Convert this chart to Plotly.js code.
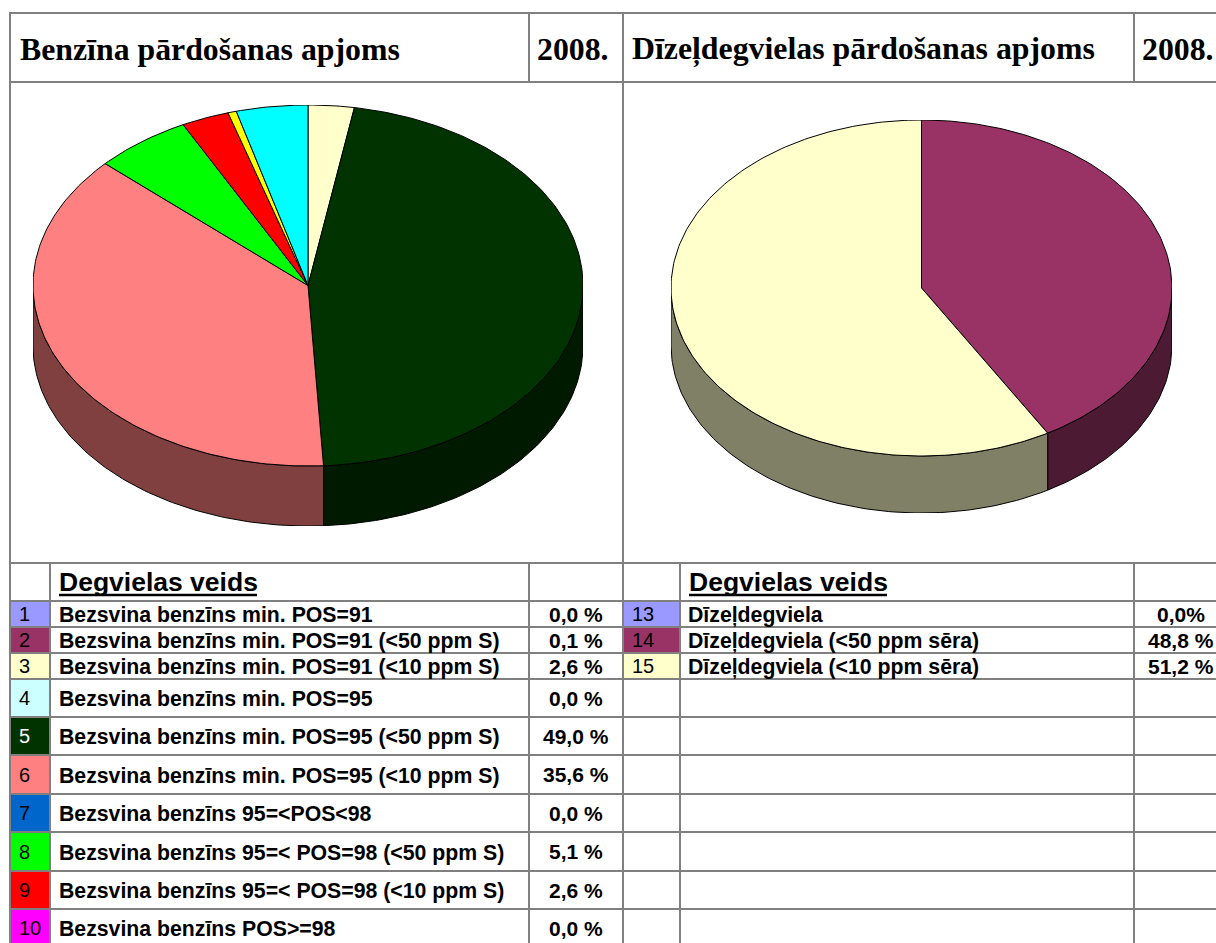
<!DOCTYPE html>
<html><head><meta charset="utf-8">
<script src="https://cdn.plot.ly/plotly-3.0.1.min.js"></script>
<style>html,body{margin:0;padding:0;background:#fff}#c{width:1216px;height:943px}</style>
</head><body><div id="c"></div>
<script>
// ---- data ----
const petrolSliceShares = [2.7, 46.4, 37.7, 5.7, 2.8, 0.5, 4.2];
const petrolSliceColors = ['#FFFFCC','#003300','#FF8080','#00FF00','#FF0000','#FFFF00','#00FFFF'];
const dieselSliceShares = [41.6, 58.4];
const dieselSliceColors = ['#993366','#FFFFCC'];

const petrolTitle = 'Benzīna pārdošanas apjoms';
const dieselTitle = 'Dīzeļdegvielas pārdošanas apjoms';
const yearLabel = '2008.';
const tableHeading = 'Degvielas veids';

const petrolNumbers = ['1','2','3','4','5','6','7','8','9','10'];
const petrolColors = ['#9999FF','#993366','#FFFFCC','#CCFFFF','#003300','#FF8080','#0066CC','#00FF00','#FF0000','#FF00FF'];
const petrolNames = [
 'Bezsvina benzīns min. POS=91',
 'Bezsvina benzīns min. POS=91 (<50 ppm S)',
 'Bezsvina benzīns min. POS=91 (<10 ppm S)',
 'Bezsvina benzīns min. POS=95',
 'Bezsvina benzīns min. POS=95 (<50 ppm S)',
 'Bezsvina benzīns min. POS=95 (<10 ppm S)',
 'Bezsvina benzīns 95=<POS<98',
 'Bezsvina benzīns 95=< POS=98 (<50 ppm S)',
 'Bezsvina benzīns 95=< POS=98 (<10 ppm S)',
 'Bezsvina benzīns POS>=98'];
const petrolPercents = ['0,0 %','0,1 %','2,6 %','0,0 %','49,0 %','35,6 %','0,0 %','5,1 %','2,6 %','0,0 %'];

const dieselNumbers = ['13','14','15'];
const dieselColors = ['#9999FF','#993366','#FFFFCC'];
const dieselNames = ['Dīzeļdegviela','Dīzeļdegviela (<50 ppm sēra)','Dīzeļdegviela (<10 ppm sēra)'];
const dieselPercents = ['0,0%','48,8 %','51,2 %'];

// ---- layout geometry (pixels) ----
const W = 1216, H = 943;
const rowLines = [563,601,627,653,679,717,755,794,832,871,909,947];
const petrolBox = {x0:33, x1:583, y0:105, y1:526, depth:60/180.5};
const dieselBox = {x0:671, x1:1172, y0:120, y1:513, depth:57/168};

function darken(hex){
  const n = parseInt(hex.slice(1),16);
  const f = v => Math.round(v/2).toString(16).padStart(2,'0');
  return '#'+f(n>>16&255)+f(n>>8&255)+f(n&255);
}
function arc(a0,a1,dy){
  const pts=[], n=Math.max(2,Math.ceil(Math.abs(a1-a0)/1));
  for(let i=0;i<=n;i++){
    const a=(a0+(a1-a0)*i/n)*Math.PI/180;
    pts.push([Math.sin(a),Math.cos(a)-dy]);
  }
  return pts;
}
function pieTraces(shares,colors,depth,xa,ya){
  const walls=[], tops=[]; let cum=0;
  shares.forEach((s,i)=>{
    const a0=cum*3.6, a1=(cum+s)*3.6; cum+=s;
    const common={type:'scatter',mode:'lines',fill:'toself',xaxis:xa,yaxis:ya,hoverinfo:'skip',
      showlegend:false,cliponaxis:false,line:{color:'#000',width:1}};
    const t=[[0,0],...arc(a0,a1,0),[0,0]];
    tops.push({...common,x:t.map(p=>p[0]),y:t.map(p=>p[1]),fillcolor:colors[i]});
    const w0=Math.max(a0,90), w1=Math.min(a1,270);
    if(w1>w0){
      const w=[...arc(w0,w1,0),...arc(w1,w0,depth)];
      w.push(w[0]);
      walls.push({...common,x:w.map(p=>p[0]),y:w.map(p=>p[1]),fillcolor:darken(colors[i])});
    }
  });
  return [...walls,...tops];
}

const shapes=[], annotations=[];
const GRID={color:'#808080',width:2};
function hl(y,x0=10,x1=W){shapes.push({type:'line',xref:'x',yref:'y',x0,x1,y0:y,y1:y,line:GRID});}
function vl(x,y0,y1){shapes.push({type:'line',xref:'x',yref:'y',x0:x,x1:x,y0,y1,line:GRID});}
function txt(text,x,y,size,family,anchor='left',color='#000'){
  annotations.push({text,x,y,xref:'x',yref:'y',showarrow:false,xanchor:anchor,yanchor:'middle',
    font:{size,family,color},borderpad:0});
}
const SERIF='Liberation Serif', SANS='Liberation Sans';
function b(s){return '<b>'+s.replace(/</g,'&lt;')+'</b>';}

function fillCells(colors,x0,x1){
  colors.forEach((c,i)=>shapes.push({type:'rect',xref:'x',yref:'y',x0,x1,y0:rowLines[i+1],y1:Math.min(rowLines[i+2],H),
    fillcolor:c,line:{width:0},layer:'below'}));
}
fillCells(petrolColors,11,49);
fillCells(dieselColors,624,679);

[13,82,...rowLines.slice(0,-1)].forEach(y=>hl(y));
vl(10,12,H); vl(623,12,H);
[529,1134].forEach(x=>{vl(x,13,82); vl(x,563,H);});
[50,680].forEach(x=>vl(x,563,H));

txt(b(petrolTitle),19,49,31.8,SERIF);
txt(b(yearLabel),536,49,31.8,SERIF);
txt(b(dieselTitle),631,49,31.8,SERIF);
txt(b(yearLabel),1141,49,31.8,SERIF);

txt(b(tableHeading),58,582,26.5,SANS);
txt(b(tableHeading),688,582,26.5,SANS);
[[59,257],[689,887]].forEach(([x0,x1])=>shapes.push({type:'line',xref:'x',yref:'y',x0,x1,y0:595,y1:595,line:{color:'#000',width:2.5}}));

function rowTexts(nums,names,pcts,numX,nameX,pctX){
  nums.forEach((n,i)=>{
    const yc=(rowLines[i+1]+rowLines[i+2])/2;
    txt(n,numX,yc,20,SANS,'left',n==='5'?'#fff':'#000');
    txt(b(names[i]),nameX,yc+1,21.25,SANS);
    txt(b(pcts[i]),pctX,yc,21,SANS,'center');
  });
}
rowTexts(petrolNumbers,petrolNames,petrolPercents,18,58,576);
rowTexts(dieselNumbers,dieselNames,dieselPercents,631,687,1181);

const dom=(b)=>({x:[b.x0/W,b.x1/W],y:[1-b.y1/H,1-b.y0/H]});
const d1=dom(petrolBox), d2=dom(dieselBox);
const hidden={visible:false,fixedrange:true};
const layout={
  width:W,height:H,margin:{l:0,r:0,t:0,b:0},paper_bgcolor:'#fff',plot_bgcolor:'rgba(0,0,0,0)',showlegend:false,
  xaxis:{...hidden,domain:[0,1],range:[0,W]},
  yaxis:{...hidden,domain:[0,1],range:[H,0]},
  xaxis2:{...hidden,domain:d1.x,range:[-1,1],anchor:'y2'},
  yaxis2:{...hidden,domain:d1.y,range:[-1-petrolBox.depth,1],anchor:'x2'},
  xaxis3:{...hidden,domain:d2.x,range:[-1,1],anchor:'y3'},
  yaxis3:{...hidden,domain:d2.y,range:[-1-dieselBox.depth,1],anchor:'x3'},
  shapes,annotations
};
const anchor={type:'scatter',x:[0],y:[0],mode:'none',hoverinfo:'skip',showlegend:false,xaxis:'x',yaxis:'y'};
Plotly.newPlot('c',[anchor,
  ...pieTraces(petrolSliceShares,petrolSliceColors,petrolBox.depth,'x2','y2'),
  ...pieTraces(dieselSliceShares,dieselSliceColors,dieselBox.depth,'x3','y3')
],layout,{displayModeBar:false,staticPlot:true});
</script></body></html>
